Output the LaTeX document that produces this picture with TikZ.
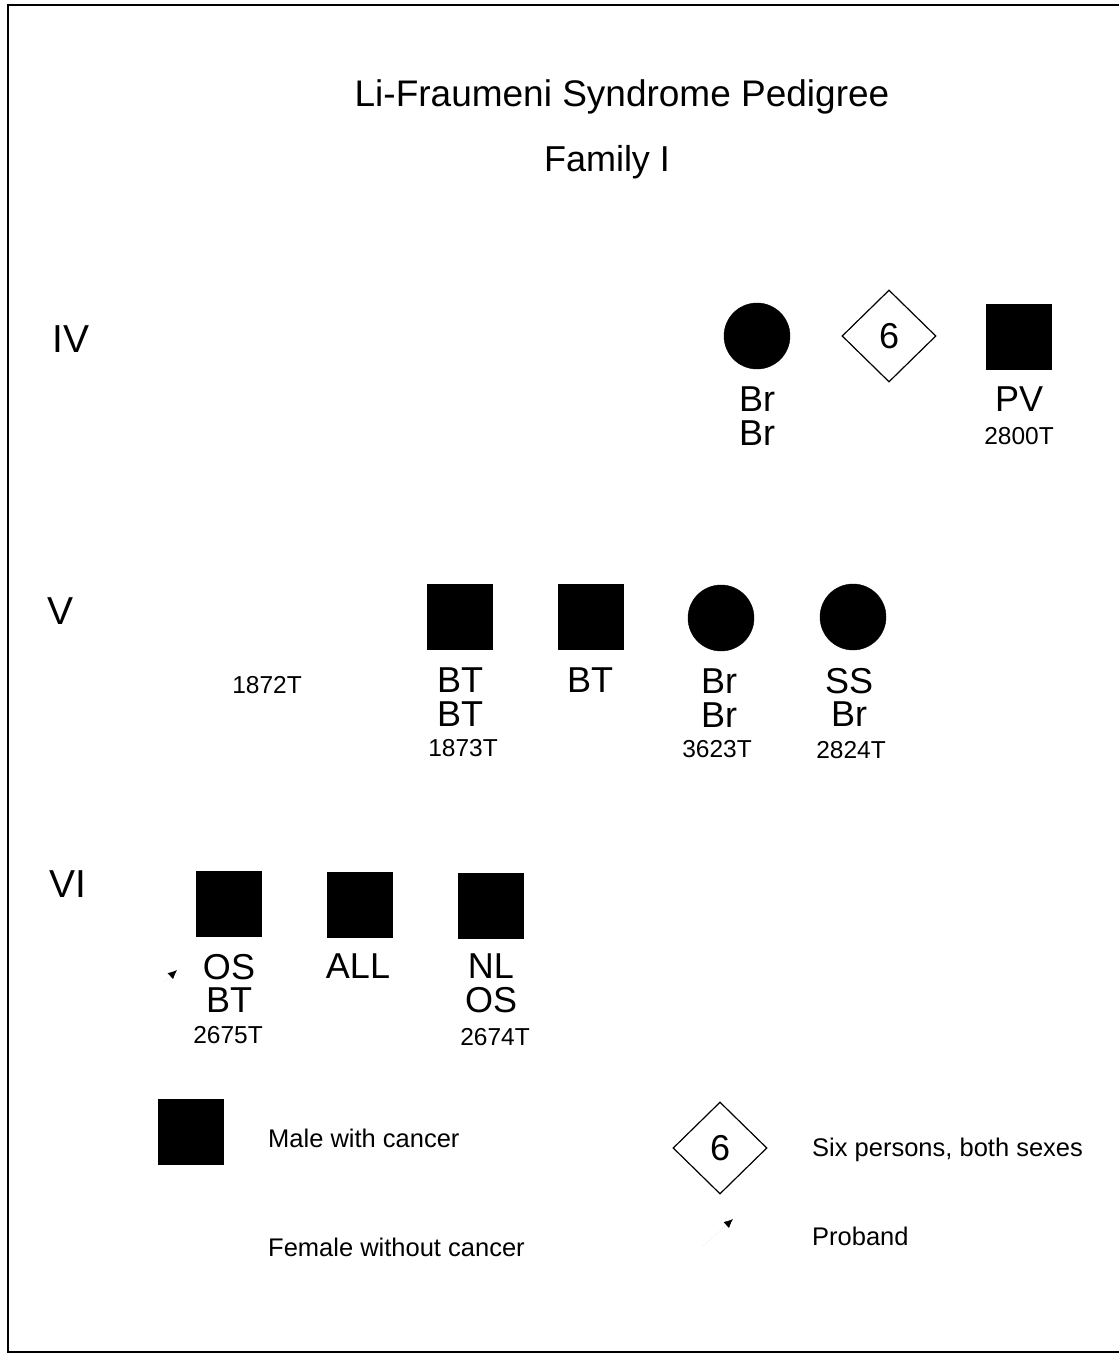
\documentclass[tikz,border=0pt]{standalone}
\usepackage{fontspec}
\setmainfont{Liberation Sans}
\usepackage{tikz}
\usetikzlibrary{shapes.geometric,arrows.meta}

\begin{document}
\begin{tikzpicture}[x=1pt, y=-1pt,
    male/.style={draw, fill=black, minimum size=65pt, inner sep=0pt},
    female/.style={circle, draw, fill=black, minimum size=66pt, inner sep=0pt},
    group/.style={diamond, draw, line width=1.2pt, minimum width=94pt, minimum height=92pt,
                  inner sep=0pt, font=\fontsize{36}{38}\selectfont},
    tag/.style={align=center, anchor=north, inner sep=0pt, font=\fontsize{36}{33.5}\selectfont},
    num/.style={inner sep=0pt, font=\fontsize{24.5}{26}\selectfont},
    gen/.style={anchor=west, inner sep=0pt, font=\fontsize{39}{40}\selectfont},
    legend/.style={anchor=west, inner sep=0pt, font=\fontsize{25.5}{28}\selectfont},
    proband/.style={-{Latex[black, length=9pt, width=8pt]}, line width=0.6pt, gray!35, dotted},
  ]
    \useasboundingbox (0,0) rectangle (1119,1356);
    \draw[line width=2pt] (1119,5) -- (8,5) -- (8,1352) -- (1119,1352);

    % title
    \node[inner sep=0pt, font=\fontsize{37}{40}\selectfont] (title) at (622,97) {Li-Fraumeni Syndrome Pedigree};
    \node[inner sep=0pt, font=\fontsize{36}{40}\selectfont] (family) at (607,162) {Family I};

    % generations
    \node[gen] (genIV) at (52,339) {IV};
    \node[gen] (genV)  at (47,611) {V};
    \node[gen] (genVI) at (49,884) {VI};

    % generation IV
    \node[female] (ivA) at (757,336) {};
    \node[group]  (ivB) at (889,336) {6};
    \node[male]   (ivC) at (1019,337) {};
    \node[tag] (ivAtag) at (757,387) {Br\\Br};
    \node[tag] (ivCtag) at (1019,387) {PV};
    \node[num] (ivCnum) at (1019,436) {2800T};

    % generation V
    \node[num] (vAnum) at (267,685) {1872T};
    \node[male]   (vB) at (460,617) {};
    \node[male]   (vC) at (591,617) {};
    \node[female] (vD) at (721,618) {};
    \node[female] (vE) at (853,617) {};
    \node[tag] (vBtag) at (460,668) {BT\\BT};
    \node[tag] (vCtag) at (590,668) {BT};
    \node[tag] (vDtag) at (719,669) {Br\\Br};
    \node[tag] (vEtag) at (849,668) {SS\\Br};
    \node[num] (vBnum) at (463,748) {1873T};
    \node[num] (vDnum) at (717,749) {3623T};
    \node[num] (vEnum) at (851,750) {2824T};

    % generation VI
    \node[male] (viA) at (229,904) {};
    \node[male] (viB) at (360,905) {};
    \node[male] (viC) at (491,906) {};
    \node[tag] (viAtag) at (229,954) {OS\\BT};
    \node[tag] (viBtag) at (358,954) {ALL};
    \node[tag] (viCtag) at (491,954) {NL\\OS};
    \node[num] (viAnum) at (228,1035) {2675T};
    \node[num] (viCnum) at (495,1037) {2674T};
    \coordinate (pbA) at (164,982);
    \coordinate (pbB) at (177,970);
    \draw[proband] (pbA) -- (pbB);

    % legend
    \node[male] (keyMale) at (191,1132) {};
    \node[legend] (keyMaleTxt) at (268,1138) {Male with cancer};
    \node[legend] (keyFemTxt) at (268,1247) {Female without cancer};
    \node[group] (keyGroup) at (720,1148) {6};
    \node[legend] (keyGroupTxt) at (812,1150) {Six persons, both sexes};
    \coordinate (keyPbA) at (703,1246);
    \coordinate (keyPbB) at (733,1219);
    \draw[proband] (keyPbA) -- (keyPbB);
    \node[legend] (keyPbTxt) at (812,1236) {Proband};
\end{tikzpicture}
\end{document}
